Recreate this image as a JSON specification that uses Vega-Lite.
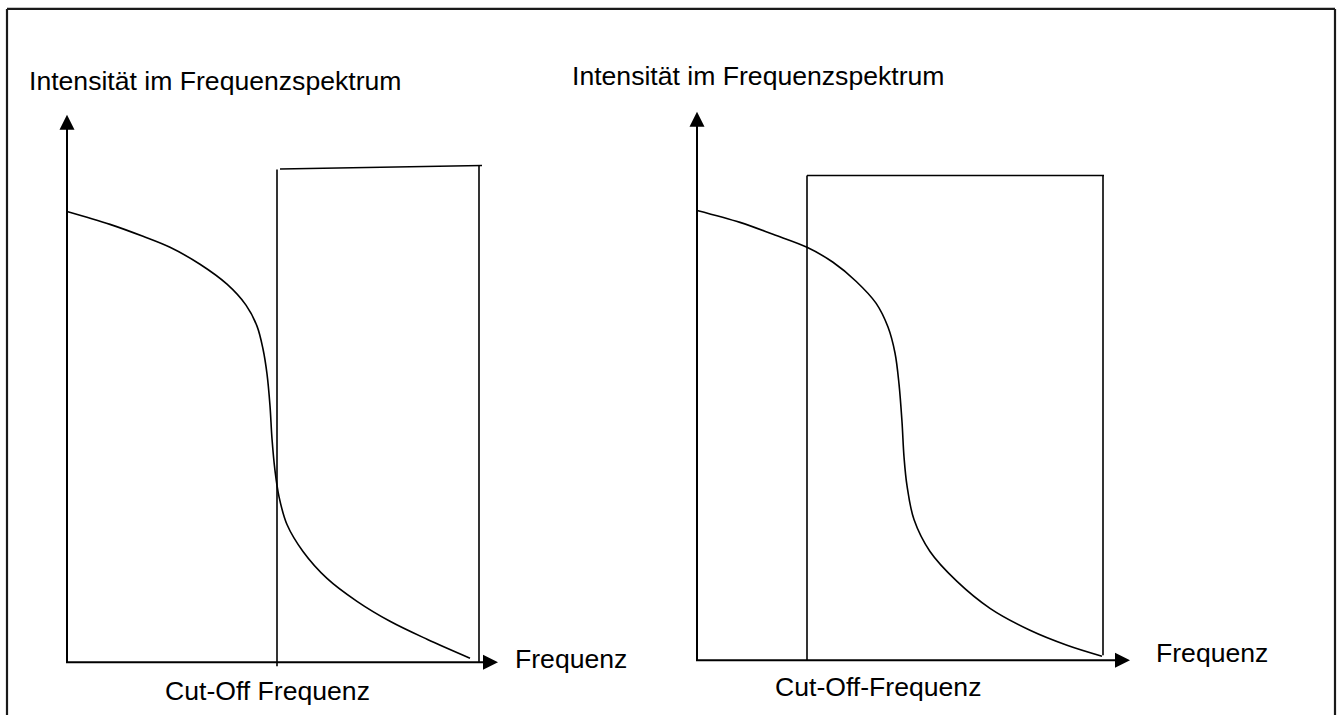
{
  "$schema": "https://vega.github.io/schema/vega-lite/v6.json",
  "autosize": {"type": "fit", "contains": "padding"},
  "width": 1341,
  "height": 717,
  "padding": 0,
  "background": "white",
  "config": {"view": {"stroke": null}},
  "datasets": {
    "segments": [
      {"kind": "border", "x": 7, "y": 9, "x2": 1335, "y2": 9},
      {"kind": "border", "x": 7, "y": 9, "x2": 7, "y2": 717},
      {"kind": "border", "x": 1335, "y": 9, "x2": 1335, "y2": 717},
      {"kind": "axis", "x": 67, "y": 128, "x2": 67, "y2": 664},
      {"kind": "axis", "x": 66, "y": 664, "x2": 486, "y2": 664},
      {"kind": "axis", "x": 697, "y": 125, "x2": 697, "y2": 662},
      {"kind": "axis", "x": 696, "y": 662, "x2": 1117, "y2": 662},
      {"kind": "box", "x": 277, "y": 170, "x2": 277, "y2": 668},
      {"kind": "box", "x": 479, "y": 166, "x2": 479, "y2": 664},
      {"kind": "box", "x": 280, "y": 169.5, "x2": 482, "y2": 166},
      {"kind": "box", "x": 807, "y": 176, "x2": 807, "y2": 662},
      {"kind": "box", "x": 1103, "y": 176, "x2": 1103, "y2": 657},
      {"kind": "box", "x": 807, "y": 176, "x2": 1104, "y2": 176}
    ],
    "arrows": [
      {"dir": "up", "x": 67, "y": 122.5},
      {"dir": "up", "x": 697, "y": 119.5},
      {"dir": "right", "x": 490.5, "y": 664},
      {"dir": "right", "x": 1122.5, "y": 662}
    ],
    "curves": [
      {"panel": "left", "x": 67, "y": 212},
      {"panel": "left", "x": 110, "y": 225},
      {"panel": "left", "x": 143, "y": 237},
      {"panel": "left", "x": 170, "y": 248},
      {"panel": "left", "x": 200, "y": 265},
      {"panel": "left", "x": 227, "y": 285},
      {"panel": "left", "x": 246, "y": 306},
      {"panel": "left", "x": 257, "y": 327},
      {"panel": "left", "x": 263, "y": 350},
      {"panel": "left", "x": 267, "y": 375},
      {"panel": "left", "x": 270, "y": 407},
      {"panel": "left", "x": 272, "y": 440},
      {"panel": "left", "x": 275, "y": 472},
      {"panel": "left", "x": 279, "y": 498},
      {"panel": "left", "x": 287, "y": 526},
      {"panel": "left", "x": 303, "y": 553},
      {"panel": "left", "x": 327, "y": 580},
      {"panel": "left", "x": 357, "y": 603},
      {"panel": "left", "x": 390, "y": 623},
      {"panel": "left", "x": 427, "y": 641},
      {"panel": "left", "x": 470, "y": 660},
      {"panel": "right", "x": 697, "y": 211},
      {"panel": "right", "x": 740, "y": 223},
      {"panel": "right", "x": 773, "y": 235},
      {"panel": "right", "x": 807, "y": 248},
      {"panel": "right", "x": 833, "y": 263},
      {"panel": "right", "x": 856, "y": 282},
      {"panel": "right", "x": 876, "y": 304},
      {"panel": "right", "x": 888, "y": 328},
      {"panel": "right", "x": 895, "y": 354},
      {"panel": "right", "x": 899, "y": 385},
      {"panel": "right", "x": 902, "y": 423},
      {"panel": "right", "x": 904, "y": 458},
      {"panel": "right", "x": 907, "y": 487},
      {"panel": "right", "x": 914, "y": 521},
      {"panel": "right", "x": 930, "y": 553},
      {"panel": "right", "x": 957, "y": 583},
      {"panel": "right", "x": 990, "y": 610},
      {"panel": "right", "x": 1030, "y": 632},
      {"panel": "right", "x": 1067, "y": 647},
      {"panel": "right", "x": 1102, "y": 658}
    ],
    "labels": [
      {"text": "Intensität im Frequenzspektrum", "x": 29, "y": 90},
      {"text": "Intensität im Frequenzspektrum", "x": 572, "y": 85},
      {"text": "Frequenz", "x": 515, "y": 670},
      {"text": "Frequenz", "x": 1156, "y": 664},
      {"text": "Cut-Off Frequenz", "x": 165, "y": 702},
      {"text": "Cut-Off-Frequenz", "x": 775, "y": 698}
    ]
  },
  "encoding": {
    "x": {"field": "x", "type": "quantitative", "scale": {"domain": [0, 1341], "nice": false, "zero": false}, "axis": null},
    "y": {"field": "y", "type": "quantitative", "scale": {"domain": [0, 717], "nice": false, "zero": false, "reverse": true}, "axis": null}
  },
  "layer": [
    {
      "data": {"name": "segments"},
      "transform": [{"filter": "datum.kind === 'border'"}],
      "mark": {"type": "rule", "stroke": "#1a1a1a", "strokeWidth": 2.2, "clip": false},
      "encoding": {"x2": {"field": "x2"}, "y2": {"field": "y2"}}
    },
    {
      "data": {"name": "segments"},
      "transform": [{"filter": "datum.kind === 'axis'"}],
      "mark": {"type": "rule", "stroke": "black", "strokeWidth": 2},
      "encoding": {"x2": {"field": "x2"}, "y2": {"field": "y2"}}
    },
    {
      "data": {"name": "segments"},
      "transform": [{"filter": "datum.kind === 'box'"}],
      "mark": {"type": "rule", "stroke": "black", "strokeWidth": 1.6},
      "encoding": {"x2": {"field": "x2"}, "y2": {"field": "y2"}}
    },
    {
      "data": {"name": "curves"},
      "mark": {"type": "line", "stroke": "black", "strokeWidth": 1.6, "interpolate": "catmull-rom"},
      "encoding": {"detail": {"field": "panel"}}
    },
    {
      "data": {"name": "arrows"},
      "transform": [{"filter": "datum.dir === 'up'"}],
      "mark": {"type": "point", "shape": "M0,-1L1,1L-1,1Z", "filled": true, "fill": "black", "stroke": null, "size": 225, "opacity": 1}
    },
    {
      "data": {"name": "arrows"},
      "transform": [{"filter": "datum.dir === 'right'"}],
      "mark": {"type": "point", "shape": "M1,0L-1,-1L-1,1Z", "filled": true, "fill": "black", "stroke": null, "size": 225, "opacity": 1}
    },
    {
      "data": {"name": "labels"},
      "mark": {"type": "text", "font": "Liberation Sans", "fontSize": 26.6, "align": "left", "baseline": "alphabetic", "fill": "black"},
      "encoding": {"text": {"field": "text"}}
    }
  ]
}
